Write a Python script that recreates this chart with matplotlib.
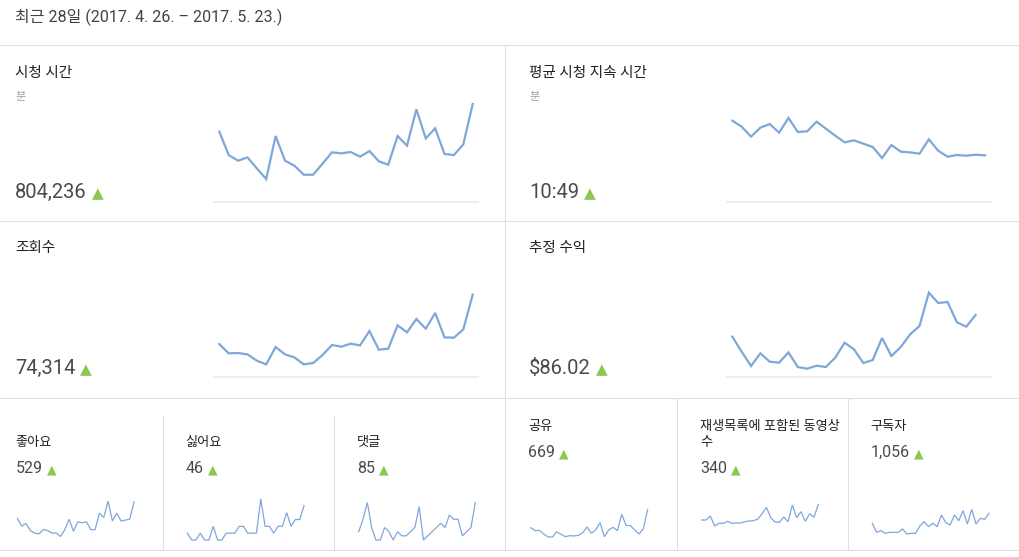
import matplotlib.pyplot as plt

plt.rcParams['font.family'] = ['Roboto', 'Noto Sans CJK KR', 'DejaVu Sans']

W, H = 1019, 557

period = '최근 28일 (2017. 4. 26. – 2017. 5. 23.)'

big_titles = ['시청 시간', '평균 시청 지속 시간', '조회수', '추정 수익']
big_units = ['분', '분', '', '']
big_totals = ['804,236', '10:49', '74,314', '$86.02']

watch_time = [210, 140, 123, 133, 100, 68, 197, 123, 108, 81, 81, 114, 148, 145,
              149, 135, 152, 121, 111, 197, 168, 277, 190, 220, 143, 140, 172, 293]
avg_duration = [243, 225, 195, 222, 233, 207, 251, 209, 211, 240, 219, 198, 178, 184,
                174, 164, 131, 170, 150, 148, 144, 187, 153, 135, 140, 138, 141, 139]
views = [98, 70, 71, 67, 48, 37, 89, 67, 58, 37, 41, 65, 95, 90,
         99, 94, 137, 81, 84, 154, 133, 173, 144, 191, 118, 117, 142, 246]
# last day of revenue not reported yet
revenue = [120, 75, 32, 70, 45, 42, 73, 29, 24, 33, 29, 57, 102, 82,
           41, 50, 116, 62, 89, 127, 152, 252, 221, 224, 163, 150, 185]

# small cards
small_titles = ['좋아요', '싫어요', '댓글', '공유', '재생목록에 포함된 동영상\n수', '구독자']
small_totals = ['529', '46', '85', '669', '340', '1,056']

likes = [25, 16, 19, 11, 8, 7, 12, 11, 8, 8, 4, 12, 24, 10,
         21, 20, 21, 12, 12, 31, 26, 45, 22, 31, 22, 23, 24, 44]
dislikes = [1, 0, 0, 1, 0, 0, 2, 0, 0, 1, 1, 1, 2, 2,
            1, 1, 1, 6, 2, 2, 1, 2, 2, 4, 2, 3, 3, 5]
comments = [2, 5, 9, 3, 0, 0, 3, 2, 0, 2, 1, 1, 2, 3,
            8, 0, 1, 2, 3, 4, 3, 6, 5, 5, 1, 2, 3, 9]
shares = [37, 28, 29, 18, 9, 9, 25, 17, 10, 13, 12, 14, 22, 39,
          20, 30, 52, 10, 30, 38, 28, 77, 44, 43, 30, 18, 34, 92]
playlist_adds = [60, 60, 72, 42, 50, 50, 56, 50, 51, 51, 55, 57, 58, 63,
                 79, 98, 66, 54, 53, 69, 55, 105, 67, 85, 56, 79, 68, 107]
subscribers = [50, 23, 28, 20, 23, 23, 23, 33, 18, 20, 20, 42, 55, 40,
               50, 40, 75, 52, 45, 75, 58, 88, 48, 92, 48, 65, 62, 80]

LINE = '#7fa7d9'
GRID = '#e0e0e0'
GREEN = '#8cc751'

fig = plt.figure(figsize=(W / 100, H / 100), dpi=100)
bg = fig.add_axes([0, 0, 1, 1])
bg.set_xlim(0, W)
bg.set_ylim(H, 0)
bg.axis('off')

# card borders
bg.hlines([45, 221, 398, 550], 0, W, color=GRID, lw=0.8)
bg.vlines(505, 45, 550, color=GRID, lw=0.8)
bg.vlines([163, 334], 415, 550, color=GRID, lw=0.8)
bg.vlines([677, 848], 398, 550, color=GRID, lw=0.8)

bg.text(15, 17, period, fontsize=11.5, color='#424242', va='center')


def value_with_arrow(x, y, s, size, tri_size, gap):
    t = bg.text(x, y, s, fontsize=size, color='#4a4a4a', va='baseline')
    bg.annotate('▲', xy=(1, y), xycoords=(t, 'data'), xytext=(gap, 0),
                textcoords='offset points', va='baseline', ha='left',
                fontsize=tri_size, color=GREEN, family=['DejaVu Sans'])


def spark(values, x_first, x_last, y_base, y_top, ylim, lw, base=None):
    dx = (x_last - x_first) / 27
    x0, x1 = (x_first, x_last) if base is None else base
    ax = fig.add_axes([x0 / W, 1 - y_base / H, (x1 - x0) / W, (y_base - y_top) / H])
    ax.plot(range(len(values)), values, color=LINE, lw=lw, clip_on=False,
            solid_joinstyle='miter')
    ax.set_xlim((x0 - x_first) / dx, 27 + (x1 - x_last) / dx)
    ax.set_ylim(0, ylim)
    ax.set_xticks([])
    ax.set_yticks([])
    ax.patch.set_alpha(0)
    for side in ['top', 'left', 'right']:
        ax.spines[side].set_visible(False)
    if base is None:
        ax.spines['bottom'].set_visible(False)
    else:
        ax.spines['bottom'].set_color('#eeeeee')
        ax.spines['bottom'].set_linewidth(1.5)
    return ax


# big cards
big_series = [watch_time, avg_duration, views, revenue]
big_pos = [(15, 73, 198.3, 219.3, 472.7, 214, 478, 201.7),
           (529, 73, 198.3, 732.3, 985, 727, 991, 201.7),
           (15, 248, 374, 219.3, 472.7, 214, 478, 376.7),
           (529, 248, 374, 732.3, 985, 727, 991, 376.7)]
for title, unit, total, series, pos in zip(big_titles, big_units, big_totals, big_series, big_pos):
    tx, ty, vy, xf, xl, b0, b1, yb = pos
    bg.text(tx, ty, title, fontsize=10.5, color='#212121', va='center')
    if unit:
        bg.text(tx, ty + 24, unit, fontsize=8, color='#9e9e9e', va='center')
    value_with_arrow(tx, vy, total, 14.5, 11, 3.5)
    spark(series, xf, xl, yb, yb - 106.7, 320, 1.6, base=(b0, b1))

# small cards
small_series = [likes, dislikes, comments, shares, playlist_adds, subscribers]
small_ylim = [48.5, 6.15, 10.1, 126, 126, 126]
small_pos = [(15.7, 442.7, 473.3, 17.3, 134),
             (185.7, 442.7, 473.3, 187.3, 304),
             (356.7, 442.7, 473.3, 358.7, 475.3),
             (528.3, 426.7, 457.3, 530.7, 647.7),
             (700, 426.7, 473.3, 701.7, 818.3),
             (870.7, 426.7, 457.3, 872.3, 989)]
for title, total, series, top, pos in zip(small_titles, small_totals, small_series, small_ylim, small_pos):
    tx, ty, vy, xf, xl = pos
    if '\n' in title:
        first, second = title.split('\n')
        bg.text(tx, ty, first, fontsize=9.5, color='#212121', va='center')
        bg.text(tx, ty + 16, second, fontsize=9.5, color='#212121', va='center')
    else:
        bg.text(tx, ty, title, fontsize=9.5, color='#212121', va='center')
    value_with_arrow(tx, vy, total, 11.5, 9, 3)
    spark(series, xf, xl, 540, 498, top, 0.9)

fig.savefig('out.png', dpi=100)
